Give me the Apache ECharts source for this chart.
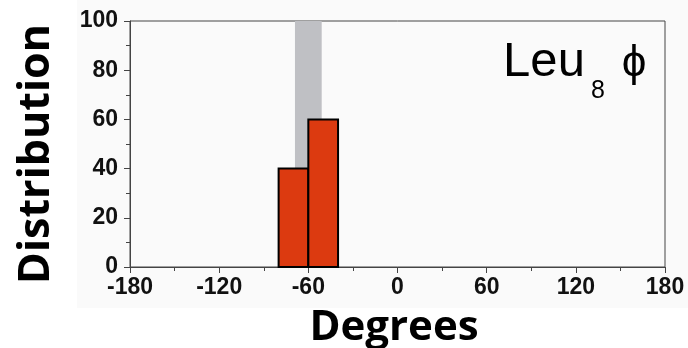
<!DOCTYPE html>
<html><head><meta charset="utf-8">
<script src="https://cdn.jsdelivr.net/npm/echarts@6/dist/echarts.min.js"></script>
<style>html,body{margin:0;padding:0;background:#fff}#c{width:688px;height:348px}</style>
</head><body><div id="c"></div>
<script>
var binStart = [-80, -60];
var binEnd = [-60, -40];
var counts = [40, 60];
var bandRange = [-69, -51];
var xTicks = [-180, -120, -60, 0, 60, 120, 180];
var yTicks = [0, 20, 40, 60, 80, 100];
var xTitle = 'Degrees';
var yTitle = 'Distribution';

var chart = echarts.init(document.getElementById('c'));
var barData = binStart.map(function (s, i) { return [s, binEnd[i], counts[i]]; });
var labelStyle = { color: '#111', fontFamily: 'Liberation Sans', fontWeight: 'bold', fontSize: 23 };

function txt(x, y, text, size, weight, family, rot) {
  return { type: 'text', x: x, y: y, rotation: rot || 0,
    style: { text: text, fontSize: size, fontWeight: weight, fontFamily: family, fill: '#000', align: 'center', verticalAlign: 'middle' } };
}

chart.setOption({
  animation: false,
  backgroundColor: '#ffffff',
  graphic: [
    { type: 'rect', z: -10, shape: { x: 77, y: 0, width: 611, height: 308 }, style: { fill: '#fafafa' } },
    txt(37, 154, yTitle, 43, 'bold', 'Open Sans', Math.PI / 2),
    txt(394, 328, xTitle, 42, 'bold', 'Open Sans'),
    txt(544, 62, 'Leu', 49, 'normal', 'Liberation Sans'),
    txt(598, 91, '8', 25, 'normal', 'Liberation Sans'),
    txt(634, 64, 'ϕ', 44, 'normal', 'Liberation Sans')
  ],
  grid: { left: 130, right: 23, top: 21, bottom: 81, show: true, borderColor: '#444', borderWidth: 1, backgroundColor: 'transparent' },
  xAxis: {
    type: 'value', min: -180, max: 180, interval: 60,
    axisLine: { show: true, onZero: false, lineStyle: { color: '#444', width: 1 } },
    axisTick: { show: true, length: 6, lineStyle: { color: '#444' } },
    minorTick: { show: true, splitNumber: 2, length: 4, lineStyle: { color: '#444' } },
    splitLine: { show: false },
    axisLabel: Object.assign({ margin: 9, customValues: xTicks }, labelStyle)
  },
  yAxis: {
    type: 'value', min: 0, max: 100, interval: 20,
    axisLine: { show: true, onZero: false, lineStyle: { color: '#444', width: 1 } },
    axisTick: { show: true, length: 6, lineStyle: { color: '#444' } },
    minorTick: { show: true, splitNumber: 2, length: 4, lineStyle: { color: '#444' } },
    splitLine: { show: false },
    axisLabel: Object.assign({ margin: 12, customValues: yTicks }, labelStyle)
  },
  series: [{
    type: 'custom',
    data: barData,
    z: 5,
    markArea: {
      silent: true,
      itemStyle: { color: '#bfc0c4' },
      data: [[{ xAxis: bandRange[0] }, { xAxis: bandRange[1] }]]
    },
    renderItem: function (params, api) {
      var p0 = api.coord([api.value(0), 0]);
      var p1 = api.coord([api.value(1), api.value(2)]);
      return {
        type: 'rect',
        shape: { x: p0[0], y: p1[1], width: p1[0] - p0[0], height: p0[1] - p1[1] },
        style: { fill: '#dc3a10', stroke: '#000', lineWidth: 2 }
      };
    }
  }]
});
</script></body></html>
